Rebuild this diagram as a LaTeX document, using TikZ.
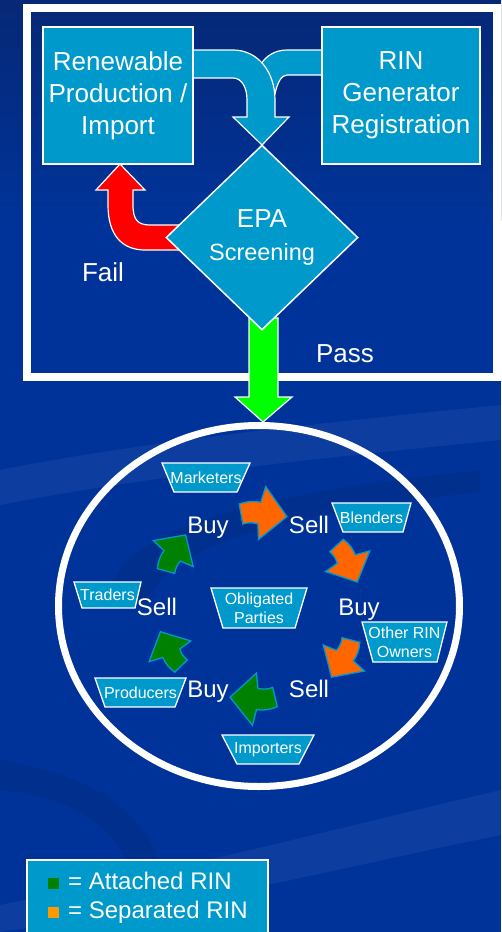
\documentclass[tikz,border=0pt]{standalone}
\usepackage{fontspec}
\setmainfont{Liberation Sans}
\usetikzlibrary{shapes.geometric}
\definecolor{bgblue}{RGB}{0,51,153}
\definecolor{bgdark}{RGB}{6,40,118}
\definecolor{boxblue}{RGB}{0,153,204}
\definecolor{passgreen}{RGB}{0,255,0}
\definecolor{attgreen}{RGB}{0,128,0}
\definecolor{seporange}{RGB}{255,102,0}
\definecolor{legorange}{RGB}{255,153,0}
\newcommand\rinarrow[5]{%
  \filldraw[fill=#5, draw=boxblue, line width=1.3pt, line join=miter,
    shift={(#1,#2)}, rotate=#3, scale=#4/42]
    (-2,-9) .. controls (5,-12) and (12,-12.5) .. (17.5,-11.5) -- (21.5,-26) -- (42,0.5)
    -- (17,22.5) -- (15.8,8.3) .. controls (10,7) and (6,7.5) .. (2,9) -- cycle;}
\newcommand\trapnode[8]{%
  \filldraw[draw=white, fill=boxblue, line width=1.3pt, line join=miter]
    (#2,#6) -- (#3,#6) -- (#5,#7) -- (#4,#7) -- cycle;
  \node (#1) [traptext] at ({(#2+#3)/2},{(#6+#7)/2}) {#8};}
\begin{document}
\begin{tikzpicture}[x=1pt,y=-1pt,
  box/.style={draw=white, line width=1.5pt, fill=boxblue, text=white, align=center,
    inner sep=0pt, font=\fontsize{26}{32}\selectfont},
  traptext/.style={text=white, inner sep=0pt, align=center, font=\fontsize{16}{19}\selectfont},
  lbl/.style={text=white, inner sep=0pt, anchor=base, font=\fontsize{26}{32}\selectfont},
  trade/.style={text=white, inner sep=0pt, anchor=base, font=\fontsize{24}{28}\selectfont},
  blockarrow/.style={draw=white, line width=1.2pt, line join=miter},
  legtext/.style={text=white, inner sep=0pt, anchor=base west, font=\fontsize{24}{28}\selectfont}
]
\useasboundingbox (0,0) rectangle (501,932);
% background
\fill[bgblue] (0,0) rectangle (501,932);
\shade[top color=bgdark, bottom color=bgblue] (0,0) rectangle (501,220);
\fill[white, opacity=0.05] (0,470) .. controls (150,440) and (350,420) .. (501,405)
  -- (501,440) .. controls (350,455) and (150,475) .. (0,505) -- cycle;
\fill[white, opacity=0.05] (0,905) .. controls (200,865) and (350,825) .. (501,790)
  -- (501,835) .. controls (350,865) and (200,905) .. (0,932) -- cycle;
\fill[black, opacity=0.08] (110,600) .. controls (110,520) and (300,490) .. (480,470)
  -- (480,492) .. controls (320,510) and (150,540) .. (150,610) -- cycle;
\fill[black, opacity=0.07] (0,760) .. controls (120,780) and (170,830) .. (170,932)
  -- (140,932) .. controls (140,850) and (100,800) .. (0,790) -- cycle;
% frame
\draw[white, line width=8pt] (27,7.5) rectangle (496.5,376.5);
% pass arrow
\draw[blockarrow, fill=passgreen] (249,318) -- (249,397) -- (235,397) -- (263,422)
  -- (292,397) -- (278,397) -- (278,318) -- cycle;
% merging arrow: right branch then left branch
\draw[blockarrow, fill=boxblue] (324,50) -- (287,50) .. controls (275,50) and (266,56) .. (261,64)
  -- (262,98) -- (275,94) .. controls (277,84) and (281,75) .. (287,75) -- (324,75) -- cycle;
\draw[blockarrow, fill=boxblue] (190,50) -- (233,50) .. controls (258,50) and (275,72) .. (275,100)
  -- (275,117) -- (289,117) -- (262,145) -- (233,117) -- (247,117) -- (247,100)
  .. controls (247,88) and (242,78) .. (233,78) -- (190,78) -- cycle;
% fail arrow
\draw[blockarrow, fill=red] (120,164) -- (145,190) -- (133,190) -- (133,205)
  .. controls (133,220) and (138,225) .. (150,225) -- (190,225) -- (190,250) -- (145,250)
  .. controls (122,250) and (108,235) .. (108,205) -- (108,190) -- (96,190) -- cycle;
% boxes
\node (ren) [box, minimum width=150pt, minimum height=137pt] at (118,95.5)
  {Renewable\\Production /\\Import};
\node (rin) [box, minimum width=158pt, minimum height=137pt] at (401,95.5)
  {RIN\\Generator\\Registration};
\node (epa) [diamond, draw=white, line width=1.5pt, fill=boxblue, minimum width=192pt,
  minimum height=185pt, inner sep=0pt, text=white, align=center,
  font=\fontsize{26}{32}\selectfont] at (262,237.5)
  {EPA\\[1pt]{\fontsize{23.5}{28}\selectfont Screening}};
\node (fail) [lbl] at (103,281) {Fail};
\node (pass) [lbl] at (345,362) {Pass};
% market circle
\draw[white, line width=7pt] (259,606) ellipse [x radius=200.5pt, y radius=180.5pt];
\trapnode{mkt}{162}{250}{174}{237}{463}{492}{Marketers}
\trapnode{bln}{332}{411}{343}{403}{503}{532}{Blenders}
\trapnode{trd}{74}{141}{82}{135}{582}{608}{Traders}
\trapnode{obl}{211}{307}{223}{295}{588}{628}{Obligated\\Parties}
\trapnode{oth}{362}{447}{373}{437}{622}{662}{Other RIN\\Owners}
\trapnode{prd}{95}{186}{105}{175}{678}{707}{Producers}
\trapnode{imp}{222}{314}{237}{299}{735}{764}{Importers}
% buy / sell
\node (b1) [trade] at (208,533) {Buy};
\node (s1) [trade] at (309,533) {Sell};
\node (s2) [trade] at (157,615) {Sell};
\node (b2) [trade] at (359,615) {Buy};
\node (b3) [trade] at (208,697) {Buy};
\node (s3) [trade] at (309,697) {Sell};
% trade arrows
\rinarrow{241}{514}{-2.5}{46}{seporange}
\rinarrow{336.5}{545.5}{-59.7}{42}{seporange}
\rinarrow{351}{640}{-117}{42}{seporange}
\rinarrow{275}{697}{181}{45}{attgreen}
\rinarrow{181}{666}{121.7}{40}{attgreen}
\rinarrow{166}{571}{62.2}{41}{attgreen}
% legend
\draw[white, line width=1.5pt, fill=boxblue] (27,860) rectangle (268,945);
\node (leg1) [legtext] at (48,889) {{\color{attgreen}\rule{11pt}{11pt}}\hspace{9pt}= Attached RIN};
\node (leg2) [legtext] at (48,918) {{\color{legorange}\rule{11pt}{11pt}}\hspace{9pt}= Separated RIN};
\end{tikzpicture}
\end{document}
